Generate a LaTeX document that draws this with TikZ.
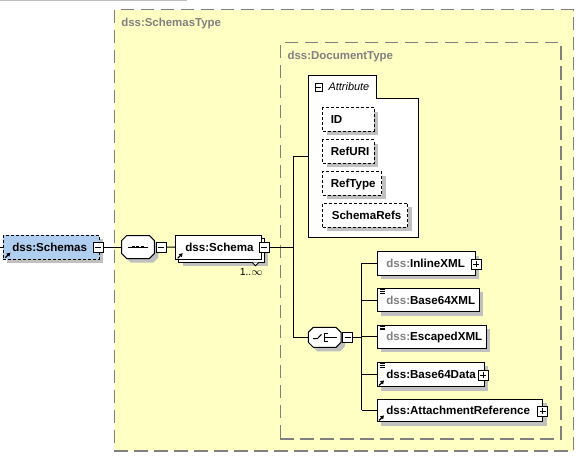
\documentclass[tikz,border=0pt]{standalone}
\usepackage{fontspec}
\setmainfont{Liberation Sans}
\usetikzlibrary{calc,fit,shadows,arrows.meta}
\definecolor{bgyel}{RGB}{255,255,196}
\definecolor{framegray}{RGB}{128,128,128}
\definecolor{shadegray}{RGB}{192,192,192}
\definecolor{elblue}{RGB}{176,206,240}
\definecolor{pfxgray}{RGB}{128,128,128}
\tikzset{
  conn/.style={draw=black, line width=0.75pt},
  shad/.style={drop shadow={shadow xshift=3pt, shadow yshift=-3pt, fill=shadegray, opacity=1}},
  elem/.style={draw=black, fill=white, line width=0.75pt, inner sep=0pt, shad},
  plainbox/.style={draw=black, fill=white, line width=0.75pt, inner sep=0pt},
  attbox/.style={draw=black, fill=white, line width=0.75pt, inner sep=0pt, dash pattern=on 2.25pt off 1.5pt, shad},
  typebox/.style={draw=framegray, fill=bgyel, line width=1pt, inner sep=0pt, dash pattern=on 10pt off 5pt},
  lbl/.style={font=\fontsize{8.7}{10}\selectfont\bfseries, inner sep=0pt, anchor=base west},
  typelbl/.style={font=\fontsize{8.6}{10}\selectfont\bfseries, text=framegray, inner sep=0pt, anchor=base west},
  pmb/.style={draw=black, fill=white, line width=0.75pt, minimum size=7.5pt, inner sep=0pt},
}
\newcommand\pmbox[3]{\node[pmb] (#1) at (#2,#3) {};
  \draw[line width=0.75pt] ($(#1.center)+(-3,0)$) -- ($(#1.center)+(3,0)$);}
\newcommand\ppbox[3]{\pmbox{#1}{#2}{#3}
  \draw[line width=0.75pt] ($(#1.center)+(0,-3)$) -- ($(#1.center)+(0,3)$);}
\newcommand\refarrow[1]{\draw[line width=0.9pt, -{Triangle[length=2.6pt,width=3pt]}]
  ($(#1.south west)+(2.5,-1.8)$) -- ($(#1.south west)+(7.5,-6.8)$);}
\newcommand\simpico[1]{\foreach \k in {0,1.7,3.4}
  \draw[line width=0.55pt] ($(#1.north west)+(3,1.8+\k)$) -- ++(5,0);}
\newcommand\octpath[4]{({#1+5},#2) -- ({#3-5},#2) -- (#3,{#2+5}) -- (#3,{#4-5}) -- ({#3-5},#4) -- ({#1+5},#4) -- (#1,{#4-5}) -- (#1,{#2+5}) -- cycle}
\newcommand\octo[5]{%
  \node[fit={(#2,#3) (#4,#5)}, inner sep=0pt] (#1) {};
  \begin{scope}[shift={(4,4)}]\fill[shadegray] \octpath{#2}{#3}{#4}{#5};\end{scope}
  \draw[fill=white, line width=0.75pt] \octpath{#2}{#3}{#4}{#5};}
\begin{document}
\begin{tikzpicture}[x=0.75pt, y=-0.75pt]
\useasboundingbox (0,0) rectangle (582,458);
% top grey line
\draw[shadegray, line width=0.9pt] (0,0.5) -- (187,0.5);

% type frames
\node[typebox, fit={(114.3,9.5) (573.5,451)}] (stype) {};
\node[typelbl] (stypeT) at (121,26.7) {dss:SchemasType};
\node[typebox, fit={(280.3,42.7) (561,439)}] (dtype) {};
\node[typelbl] (dtypeT) at (287.3,59.3) {dss:DocumentType};

% dss:Schemas
\coordinate (stub) at (0,247);
\node[elem, fill=elblue, dash pattern=on 2.25pt off 1.5pt, fit={(3.3,235) (99,259)}] (schemas) {};
\node[lbl] (schemasT) at (12,251) {dss:Schemas};
\refarrow{schemas}
\pmbox{schmin}{98.3}{247}
\draw[conn] (stub) -- (schemas.west);

% sequence
\octo{seq}{121.7}{235.5}{154.3}{258.5}
\draw[line width=0.75pt] (128.3,247) -- (148.3,247);
\foreach \xx in {133.3,137.7,142.3} \fill (\xx-1.4,245.6) rectangle (\xx+1.4,248.4);
\pmbox{seqmin}{161}{247}
\draw[conn] (schmin.east) -- (seq.west);

% dss:Schema (stacked)
\node[elem, fit={(178.7,238) (264.3,262.3)}] (schemaB) {};
\node[plainbox, fit={(175.7,235) (261,259.5)}] (schema) {};
\draw[fill=white, line width=0.6pt] (252,262.3) -- (255.5,265.8) -- (259,262.3);
\node[lbl] (schemaT) at (185,251) {dss:Schema};
\refarrow{schema}
\pmbox{schemamin}{264.3}{247.3}
\node[font=\fontsize{7.8}{9}\selectfont, inner sep=0pt, anchor=base west] (occ) at (239.5,275.5) {1..$\infty$};
\draw[conn] (seqmin.east) -- (schema.west);

% attribute group
\node[fit={(308.3,75) (418.3,237.7)}, inner sep=0pt] (attr) {};
\draw[fill=white, line width=0.75pt] (308.3,75) -- (376.7,75) -- (376.7,98.3) -- (418.3,98.3) -- (418.3,237.7) -- (308.3,237.7) -- cycle;
\node[pmb, minimum size=5.4pt] (attrmin) at (318.7,87.5) {};
\draw[line width=0.7pt] ($(attrmin.center)+(-2.3,0)$) -- ($(attrmin.center)+(2.3,0)$);
\node[font=\fontsize{8.2}{10}\selectfont\itshape, inner sep=0pt, anchor=base west] (attrT) at (328.3,90.5) {Attribute};

\node[attbox, fit={(322.7,107.7) (374,131)}] (aid) {};
\node[lbl] (aidT) at ($(aid.west)+(8.3,4)$) {ID};
\node[attbox, fit={(322.7,139.7) (374,163.3)}] (auri) {};
\node[lbl] (auriT) at ($(auri.west)+(8.3,4)$) {RefURI};
\node[attbox, fit={(322.7,171.7) (381.7,195)}] (atype) {};
\node[lbl] (atypeT) at ($(atype.west)+(8.3,4)$) {RefType};
\node[attbox, fit={(322.7,203.3) (407.7,227.3)}] (arefs) {};
\node[lbl] (arefsT) at ($(arefs.west)+(9.3,4)$) {SchemaRefs};

\coordinate (j1) at ($(attr.west)+(-15,0)$);
\draw[conn] (schemamin.east) -| (j1) -- (attr.west);

% choice
\octo{cho}{308.3}{327.3}{341}{347.3}
\draw[line width=0.75pt] (313,338.5) -- (317.5,338.5) -- (321.5,334.3);
\draw[line width=0.75pt] (324.3,333.3) -- (324.3,341.3);
\foreach \yy in {333.3,337.3,341.3} \draw[line width=0.75pt] (324.3,\yy) -- (327.5,\yy);
\draw[line width=0.75pt] (327.5,337.3) -- (336.5,337.3);
\pmbox{chomin}{347.7}{337.3}
\draw[conn] (j1) |- (cho.west);

% choice children
\node[elem, fit={(377,251.7) (475,275)}] (inl) {};
\node[lbl] (inlT) at ($(inl.west)+(9.5,4)$) {\textcolor{pfxgray}{dss:}InlineXML};
\ppbox{inlplus}{476}{264}

\node[elem, fit={(377,288.3) (479,311.7)}] (b64x) {};
\node[lbl] (b64xT) at ($(b64x.west)+(9.5,4)$) {\textcolor{pfxgray}{dss:}Base64XML};
\simpico{b64x}

\node[elem, fit={(377,325) (486,348.3)}] (esc) {};
\node[lbl] (escT) at ($(esc.west)+(9.5,4)$) {\textcolor{pfxgray}{dss:}EscapedXML};
\simpico{esc}

\node[elem, fit={(377,362.3) (484,386.7)}] (b64d) {};
\node[lbl] (b64dT) at ($(b64d.west)+(9.5,4)$) {dss:Base64Data};
\simpico{b64d}
\refarrow{b64d}
\ppbox{b64dplus}{483.2}{375}

\node[elem, fit={(377,399) (542.7,421.7)}] (att) {};
\node[lbl] (attT) at ($(att.west)+(9.5,4)$) {dss:AttachmentReference};
\refarrow{att}
\ppbox{attplus}{542.7}{411}

\coordinate (j2) at ($(inl.west)+(-14.7,0)$);
\draw[conn] (chomin.east) -- (chomin.east -| j2);
\draw[conn] (j2) -- (j2 |- att.west);
\draw[conn] (j2) -- (inl.west);
\draw[conn] (j2 |- b64x.west) -- (b64x.west);
\draw[conn] (j2 |- esc.west) -- (esc.west);
\draw[conn] (j2 |- b64d.west) -- (b64d.west);
\draw[conn] (j2 |- att.west) -- (att.west);
\end{tikzpicture}
\end{document}
